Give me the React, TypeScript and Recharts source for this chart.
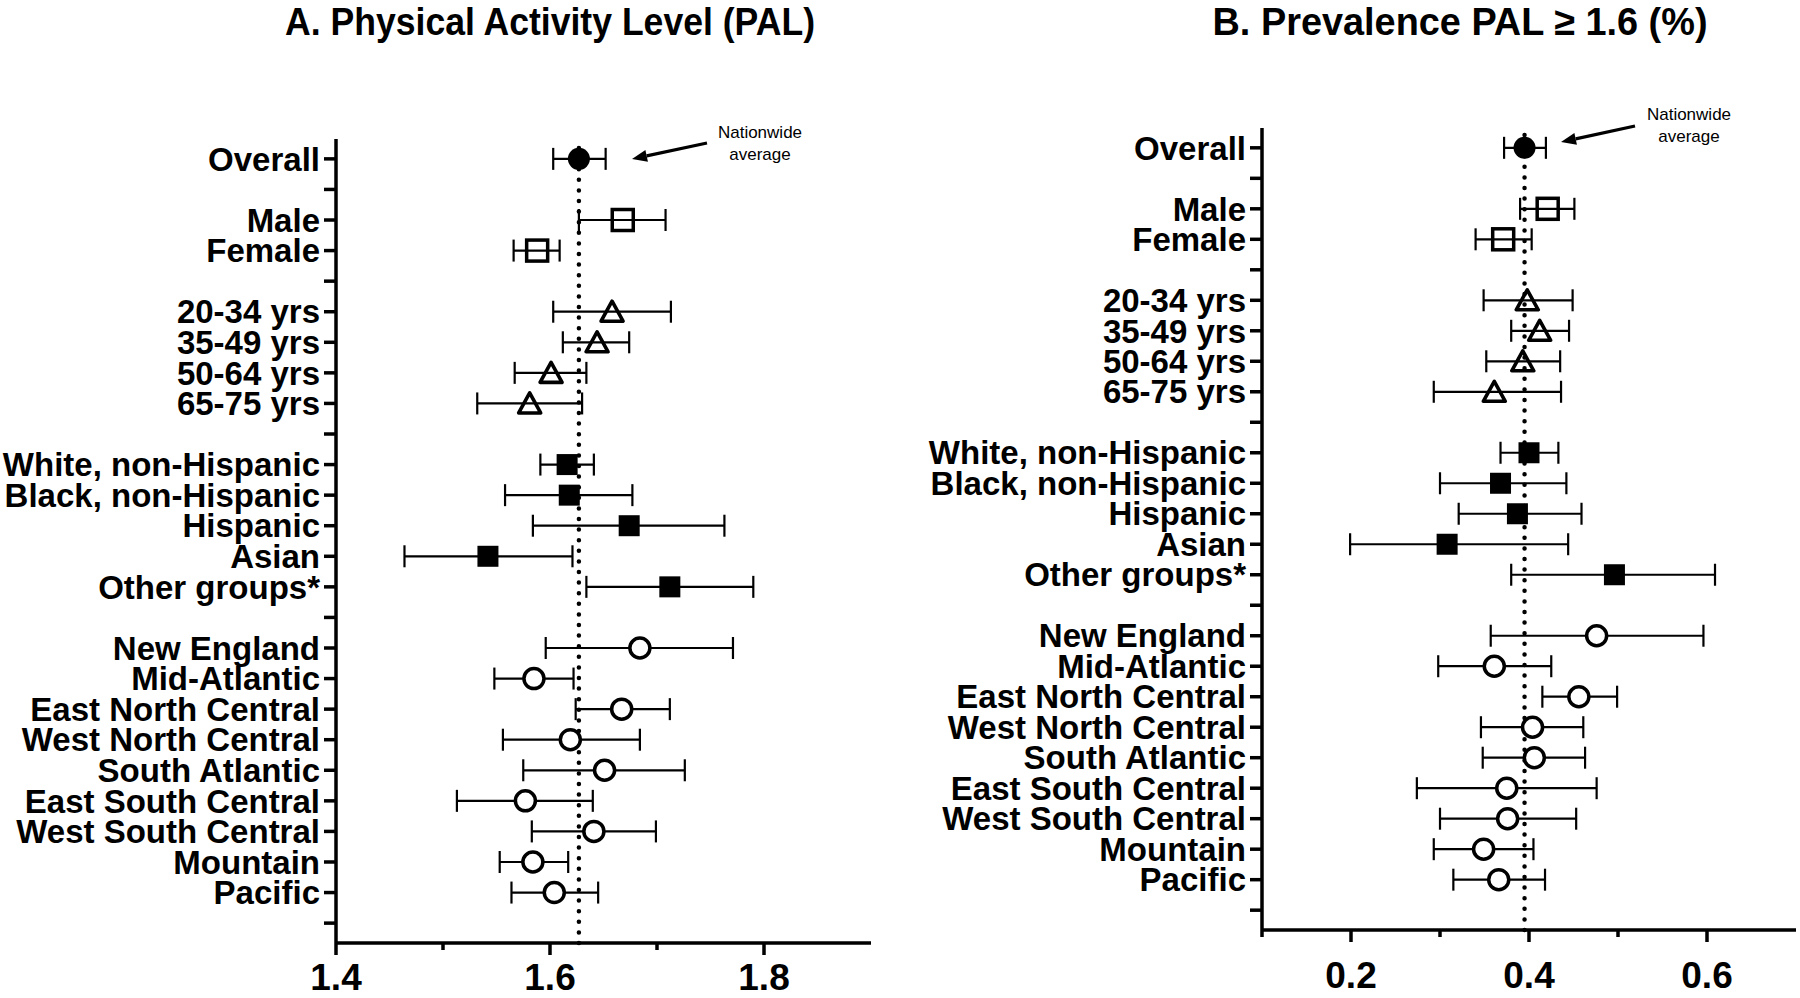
import React from "react"
import { ScatterChart, Scatter, XAxis, YAxis, ErrorBar, ReferenceLine } from "recharts"

const rowLabels = [
  "Overall", "",
  "Male", "Female", "",
  "20-34 yrs", "35-49 yrs", "50-64 yrs", "65-75 yrs", "",
  "White, non-Hispanic", "Black, non-Hispanic", "Hispanic", "Asian", "Other groups*", "",
  "New England", "Mid-Atlantic", "East North Central", "West North Central", "South Atlantic",
  "East South Central", "West South Central", "Mountain", "Pacific", "",
]

const categories = [
  "Overall", "Male", "Female", "20-34 yrs", "35-49 yrs", "50-64 yrs", "65-75 yrs",
  "White, non-Hispanic", "Black, non-Hispanic", "Hispanic", "Asian", "Other groups*",
  "New England", "Mid-Atlantic", "East North Central", "West North Central", "South Atlantic",
  "East South Central", "West South Central", "Mountain", "Pacific",
]

const categoryGroup = [
  "overall", "sex", "sex", "age", "age", "age", "age",
  "race", "race", "race", "race", "race",
  "region", "region", "region", "region", "region", "region", "region", "region", "region",
]

// A. PAL
const palMean = [1.627, 1.668, 1.588, 1.658, 1.644, 1.601, 1.581, 1.616, 1.618, 1.674, 1.542, 1.712, 1.684, 1.585, 1.667, 1.619, 1.651, 1.577, 1.641, 1.584, 1.604]
const palLow = [1.603, 1.627, 1.566, 1.603, 1.612, 1.567, 1.532, 1.591, 1.558, 1.584, 1.464, 1.634, 1.596, 1.548, 1.624, 1.556, 1.575, 1.513, 1.583, 1.553, 1.564]
const palHigh = [1.652, 1.708, 1.609, 1.713, 1.674, 1.634, 1.630, 1.641, 1.677, 1.763, 1.621, 1.790, 1.771, 1.622, 1.712, 1.684, 1.726, 1.640, 1.699, 1.617, 1.645]
const palAverage = 1.627
const palTicks = [1.4, 1.5, 1.6, 1.7, 1.8]
const palMajor = [1.4, 1.6, 1.8]

// B. Prevalence PAL >= 1.6
const prevMean = [0.395, 0.421, 0.371, 0.398, 0.412, 0.393, 0.361, 0.400, 0.368, 0.387, 0.308, 0.496, 0.476, 0.361, 0.456, 0.404, 0.406, 0.375, 0.376, 0.349, 0.366]
const prevLow = [0.372, 0.390, 0.340, 0.349, 0.380, 0.352, 0.293, 0.368, 0.300, 0.321, 0.199, 0.380, 0.357, 0.298, 0.415, 0.346, 0.348, 0.274, 0.300, 0.293, 0.315]
const prevHigh = [0.419, 0.451, 0.403, 0.449, 0.445, 0.435, 0.436, 0.433, 0.442, 0.459, 0.444, 0.609, 0.596, 0.425, 0.499, 0.461, 0.463, 0.476, 0.453, 0.405, 0.418]
const prevAverage = 0.395
const prevTicks = [0.1, 0.2, 0.3, 0.4, 0.5, 0.6]
const prevMajor = [0.2, 0.4, 0.6]

const FONT = "'Liberation Sans', Arial, Helvetica, sans-serif"
const rowTicks = rowLabels.map((_, i) => i)

function buildRows(mean: number[], low: number[], high: number[]) {
  return categories.map((c, i) => ({
    name: c,
    group: categoryGroup[i],
    x: mean[i],
    row: rowLabels.indexOf(c),
    err: [mean[i] - low[i], high[i] - mean[i]],
  }))
}

const shapes: Record<string, (p: any) => React.ReactElement> = {
  overall: ({ cx, cy }) => <circle cx={cx} cy={cy} r={11} fill="#000" />,
  sex: ({ cx, cy }) => (
    <rect x={cx - 10.5} y={cy - 10.5} width={21} height={21} fill="none" stroke="#000" strokeWidth={3.5} />
  ),
  age: ({ cx, cy }) => (
    <polygon
      points={`${cx},${cy - 10.5} ${cx + 11},${cy + 9.5} ${cx - 11},${cy + 9.5}`}
      fill="none"
      stroke="#000"
      strokeWidth={3.6}
      strokeLinejoin="round"
    />
  ),
  race: ({ cx, cy }) => <rect x={cx - 10.5} y={cy - 10.5} width={21} height={21} fill="#000" />,
  region: ({ cx, cy }) => <circle cx={cx} cy={cy} r={10} fill="#fff" stroke="#000" strokeWidth={3.5} />,
}

const groups = ["overall", "sex", "age", "race", "region"]

function makeXTick(major: number[], offset: number, fontSize: number) {
  return (props: any) => {
    const { x, y, payload } = props
    const isMajor = major.some((m) => Math.abs(m - payload.value) < 1e-9)
    return (
      <g>
        <line x1={x} x2={x} y1={y} y2={y + (isMajor ? 12 : 7)} stroke="#000" strokeWidth={3.5} />
        {isMajor && (
          <text x={x} y={y + offset} textAnchor="middle" fontSize={fontSize} fontWeight="bold" fill="#000">
            {payload.value.toFixed(1)}
          </text>
        )}
      </g>
    )
  }
}

interface PanelProps {
  data: ReturnType<typeof buildRows>
  domain: [number, number]
  ticks: number[]
  major: number[]
  average: number
  top: number
  axisWidth: number
  right: number
  xHeight: number
  labelOffset: number
  labelSize: number
}

function Panel({ data, domain, ticks, major, average, top, axisWidth, right, xHeight, labelOffset, labelSize }: PanelProps) {
  return (
    <ScatterChart width={900} height={998} margin={{ top, right, bottom: 0, left: 0 }}>
      <XAxis
        type="number"
        dataKey="x"
        domain={domain}
        ticks={ticks}
        allowDataOverflow
        interval={0}
        height={xHeight}
        tickSize={0}
        tickMargin={0}
        tickLine={false}
        axisLine={{ stroke: "#000", strokeWidth: 3.5 }}
        tick={makeXTick(major, labelOffset, labelSize)}
      />
      <YAxis
        type="number"
        dataKey="row"
        domain={[-0.65, 25.65]}
        reversed
        allowDataOverflow
        ticks={rowTicks}
        interval={0}
        width={axisWidth}
        tickSize={12}
        tickMargin={4}
        tickFormatter={(v: number) => rowLabels[v] ?? ""}
        tick={{ fontSize: 33, fontWeight: "bold", fill: "#000" }}
        tickLine={{ stroke: "#000", strokeWidth: 3.5 }}
        axisLine={{ stroke: "#000", strokeWidth: 3.5 }}
      />
      <ReferenceLine
        x={average}
        stroke="#000"
        strokeWidth={4.5}
        strokeDasharray="0 10.6"
        strokeLinecap="round"
      />
      {groups.map((g) => (
        <Scatter
          key={g}
          data={data.filter((d) => d.group === g)}
          shape={shapes[g]}
          isAnimationActive={false}
        >
          <ErrorBar dataKey="err" direction="x" width={11} stroke="#000" strokeWidth={2.2} />
        </Scatter>
      ))}
    </ScatterChart>
  )
}

function Arrow({ x1, y1, x2, y2 }: { x1: number; y1: number; x2: number; y2: number }) {
  const ang = Math.atan2(y2 - y1, x2 - x1)
  const len = 15
  const half = 6
  const bx = x2 - len * Math.cos(ang)
  const by = y2 - len * Math.sin(ang)
  const px = -Math.sin(ang) * half
  const py = Math.cos(ang) * half
  return (
    <g>
      <line x1={x1} y1={y1} x2={bx} y2={by} stroke="#000" strokeWidth={3.2} />
      <polygon points={`${x2},${y2} ${bx + px},${by + py} ${bx - px},${by - py}`} fill="#000" />
    </g>
  )
}

export default function App() {
  const palRows = buildRows(palMean, palLow, palHigh)
  const prevRows = buildRows(prevMean, prevLow, prevHigh)
  return (
    <div style={{ position: "absolute", left: 0, top: 0, width: 1800, height: 998, background: "#fff", fontFamily: FONT }}>
      <div style={{ position: "absolute", left: 0, top: 0 }}>
        <Panel
          data={palRows}
          domain={[1.4, 1.9]}
          ticks={palTicks}
          major={palMajor}
          average={palAverage}
          top={139}
          axisWidth={336}
          right={29}
          xHeight={55}
          labelOffset={47}
          labelSize={37}
        />
      </div>
      <div style={{ position: "absolute", left: 900, top: 0 }}>
        <Panel
          data={prevRows}
          domain={[0.1, 0.7]}
          ticks={prevTicks}
          major={prevMajor}
          average={prevAverage}
          top={128}
          axisWidth={362}
          right={4}
          xHeight={68}
          labelOffset={58}
          labelSize={37}
        />
      </div>
      <svg width={1800} height={998} style={{ position: "absolute", left: 0, top: 0, pointerEvents: "none" }}>
        <text x={550} y={35} textAnchor="middle" fontSize={39} fontWeight="bold" fill="#000"
          textLength={530} lengthAdjust="spacingAndGlyphs">
          A. Physical Activity Level (PAL)
        </text>
        <text x={1460} y={35} textAnchor="middle" fontSize={39} fontWeight="bold" fill="#000"
          textLength={495} lengthAdjust="spacingAndGlyphs">
          B. Prevalence PAL ≥ 1.6 (%)
        </text>
        <text x={760} y={138} textAnchor="middle" fontSize={17} fill="#000">Nationwide</text>
        <text x={760} y={160} textAnchor="middle" fontSize={17} fill="#000">average</text>
        <Arrow x1={707} y1={143} x2={632} y2={159} />
        <text x={1689} y={120} textAnchor="middle" fontSize={17} fill="#000">Nationwide</text>
        <text x={1689} y={142} textAnchor="middle" fontSize={17} fill="#000">average</text>
        <Arrow x1={1635} y1={126} x2={1561} y2={142} />
      </svg>
    </div>
  )
}
